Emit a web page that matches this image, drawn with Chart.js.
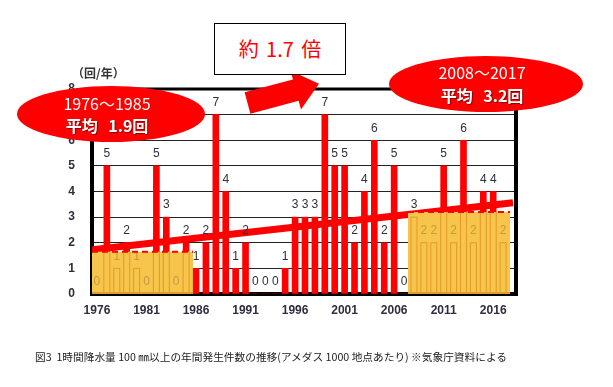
<!DOCTYPE html>
<html>
<head>
<meta charset="utf-8">
<script src="https://cdn.jsdelivr.net/npm/chart.js@4/dist/chart.umd.min.js"></script>
<style>
  body { margin: 0; background: #fff; }
  #wrap { position: relative; width: 613px; height: 387px; font-family: "Noto Sans CJK JP", sans-serif; }
  #chart { position: absolute; left: 0; top: 0; }
  .oval { position: absolute; background: #f00; border-radius: 50%; color: #fff; text-align: center; }
  .oval .l1 { position: absolute; left: 0; right: 0; font-size: 16px; line-height: 16px; }
  .oval .l2 { position: absolute; left: 0; right: 0; font-size: 16px; line-height: 16px; font-weight: bold;
              word-spacing: 7px; text-shadow: 1px 1px 1px rgba(60,0,0,0.6); }
  #ratio { position: absolute; left: 214px; top: 23px; width: 130px; height: 50px; border: 1px solid #000;
           background: #fff; color: #f00; font-size: 20px; line-height: 50px; text-align: center; word-spacing: 3px; }
  #unit { position: absolute; left: 72px; top: 64px; font-size: 12px; color: #333; font-weight: bold; }
  #caption { position: absolute; left: 35px; top: 349px; font-size: 10.7px; color: #222; white-space: nowrap; }
</style>
</head>
<body>
<div id="wrap">
  <canvas id="chart" width="613" height="387"></canvas>
  <div id="unit">（回/年）</div>
  <div class="oval" style="left:17px; top:86px; width:188px; height:56px;">
    <div class="l1" style="top:9px; padding-right:8px;">1976～1985</div>
    <div class="l2" style="top:31px; padding-right:8px;">平均 1.9回</div>
  </div>
  <div class="oval" style="left:389px; top:56px; width:194px; height:56px;">
    <div class="l1" style="top:8px; padding-right:8px;">2008～2017</div>
    <div class="l2" style="top:31px; padding-right:8px;">平均 3.2回</div>
  </div>
  <div id="ratio">約 1.7 倍</div>
  <div id="caption">図3&nbsp;&nbsp;1時間降水量 100 ㎜以上の年間発生件数の推移(アメダス 1000 地点あたり) ※気象庁資料による</div>
</div>
<script>
// Data
const years = [1976, 1977, 1978, 1979, 1980, 1981, 1982, 1983, 1984, 1985,
               1986, 1987, 1988, 1989, 1990, 1991, 1992, 1993, 1994, 1995,
               1996, 1997, 1998, 1999, 2000, 2001, 2002, 2003, 2004, 2005,
               2006, 2007, 2008, 2009, 2010, 2011, 2012, 2013, 2014, 2015,
               2016, 2017];
const counts = [0, 5, 1, 2, 1, 0, 5, 3, 0, 2,
                1, 2, 7, 4, 1, 2, 0, 0, 0, 1,
                3, 3, 3, 7, 5, 5, 2, 4, 6, 2,
                5, 0, 3, 2, 2, 5, 2, 6, 2, 4,
                4, 2];
const tickYears = [1976, 1981, 1986, 1991, 1996, 2001, 2006, 2011, 2016];
const trendX = [1975.5, 2018.0];
const trendY = [1.73, 3.56];
// shaded average periods
const avgFrom = [1975.5, 2007.4];
const avgTo = [1985.7, 2017.7];
const avgLevel = [1.65, 3.2];

const labelColor = '#2e2e3e';

const overlay = {
  id: 'overlay',
  afterDatasetsDraw(chart) {
    const ctx = chart.ctx;
    const x = chart.scales.x, y = chart.scales.y;
    const bars = chart.getDatasetMeta(1).data;
    ctx.save();
    ctx.font = '12px "Liberation Sans"';
    ctx.textAlign = 'center';
    ctx.textBaseline = 'bottom';
    ctx.fillStyle = labelColor;
    bars.forEach((b, i) => ctx.fillText(counts[i], b.x, b.y - 6));

    avgFrom.forEach((f, k) => {
      const l = x.getPixelForValue(f), r = x.getPixelForValue(avgTo[k]);
      const t = y.getPixelForValue(avgLevel[k]), btm = y.getPixelForValue(0);
      ctx.fillStyle = '#f7c44c';
      ctx.fillRect(l, t, r - l, btm - t);
      ctx.save();
      ctx.beginPath();
      ctx.rect(l, t, r - l, btm - t);
      ctx.clip();
      ctx.strokeStyle = '#e29a2a';
      ctx.lineWidth = 1;
      bars.forEach(b => ctx.strokeRect(b.x - b.width / 2, b.y, b.width, btm - b.y));
      ctx.fillStyle = '#c8983a';
      bars.forEach((b, i) => ctx.fillText(counts[i], b.x, b.y - 6));
      ctx.restore();
      // dashed top edge
      ctx.save();
      ctx.strokeStyle = '#f00';
      ctx.lineWidth = 2;
      ctx.setLineDash([6, 4]);
      ctx.beginPath();
      ctx.moveTo(l, t);
      ctx.lineTo(r, t);
      ctx.stroke();
      ctx.restore();
      // darker bottom edge
      ctx.fillStyle = '#d9a030';
      ctx.fillRect(l, btm - 2, r - l, 2);
    });
    ctx.restore();
  },
  afterDraw(chart) {
    const ctx = chart.ctx, a = chart.chartArea;
    ctx.save();
    ctx.strokeStyle = '#000';
    ctx.lineWidth = 3;
    ctx.beginPath();
    ctx.moveTo(a.left - 2, a.top);
    ctx.lineTo(a.right + 2, a.top);
    ctx.stroke();
    ctx.lineWidth = 4;
    ctx.beginPath();
    ctx.moveTo(a.right, a.top);
    ctx.lineTo(a.right, a.bottom + 2);
    ctx.stroke();

    // arrow between the two ovals
    const ang = -15 * Math.PI / 180;
    const ux = Math.cos(ang), uy = Math.sin(ang), nx = -uy, ny = ux;
    const bx = 247.5, by = 103;
    const pts = [
      [bx - nx * 11, by - ny * 11],
      [bx + ux * 50 - nx * 11, by + uy * 50 - ny * 11],
      [bx + ux * 50 - nx * 20, by + uy * 50 - ny * 20],
      [bx + ux * 74, by + uy * 74],
      [bx + ux * 50 + nx * 20, by + uy * 50 + ny * 20],
      [bx + ux * 50 + nx * 11, by + uy * 50 + ny * 11],
      [bx + nx * 11, by + ny * 11]
    ];
    ctx.fillStyle = '#f00';
    ctx.beginPath();
    pts.forEach((p, i) => i ? ctx.lineTo(p[0], p[1]) : ctx.moveTo(p[0], p[1]));
    ctx.closePath();
    ctx.fill();
    ctx.restore();
  }
};

new Chart(document.getElementById('chart'), {
  data: {
    datasets: [
      {
        type: 'line',
        data: trendX.map((v, i) => ({x: v, y: trendY[i]})),
        borderColor: '#f00',
        borderWidth: 7,
        pointRadius: 0,
        order: 0
      },
      {
        type: 'bar',
        data: years.map((v, i) => ({x: v, y: counts[i]})),
        backgroundColor: '#f00',
        barThickness: 6,
        order: 1
      }
    ]
  },
  options: {
    responsive: false,
    animation: false,
    events: [],
    layout: { padding: { left: 0, top: 89, right: 97, bottom: 67 } },
    plugins: { legend: { display: false }, tooltip: { enabled: false } },
    scales: {
      x: {
        type: 'linear',
        offset: false,
        min: 1975.5,
        max: 2018.3,
        afterBuildTicks: s => { s.ticks = tickYears.map(v => ({value: v})); },
        afterFit: s => { s.height = 26; },
        grid: { offset: false, drawOnChartArea: false, drawTicks: false },
        border: { width: 4, color: '#000' },
        ticks: {
          callback: v => String(v),
          color: labelColor,
          padding: 9,
          autoSkip: false,
          maxRotation: 0,
          font: { family: 'Liberation Sans', size: 12, weight: 'bold' }
        }
      },
      y: {
        min: 0,
        max: 8,
        afterFit: s => { s.width = 92; },
        grid: { color: '#222', lineWidth: 1, drawTicks: false },
        border: { width: 4, color: '#000' },
        ticks: {
          stepSize: 1,
          color: labelColor,
          padding: 17,
          font: { family: 'Liberation Sans', size: 12, weight: 'bold' }
        }
      }
    }
  },
  plugins: [overlay]
});
</script>
</body>
</html>
